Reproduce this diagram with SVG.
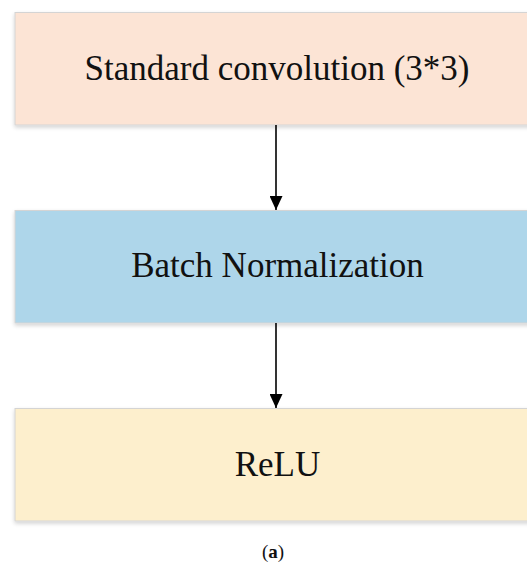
<svg xmlns="http://www.w3.org/2000/svg" width="527" height="564" viewBox="0 0 527 564">
  <style>
    .box { stroke: #d4d4d4; stroke-width: 1; }
    .label { font-family: "Liberation Serif", "Times New Roman", serif; font-size: 35px; fill: #111; text-anchor: middle; }
    .edge { stroke: #000; stroke-width: 1.6; fill: none; }
    .caption { font-family: "Liberation Serif", "Times New Roman", serif; font-size: 19px; fill: #111; text-anchor: middle; }
  </style>
  <defs>
    <marker id="arrow" markerWidth="14" markerHeight="13" refX="10" refY="5" orient="auto" markerUnits="userSpaceOnUse" viewBox="0 0 10 10" preserveAspectRatio="none">
      <path d="M0,0 L10,5 L0,10 z" fill="#000"/>
    </marker>
    <filter id="shadow" x="-5%" y="-10%" width="110%" height="130%">
      <feGaussianBlur in="SourceAlpha" stdDeviation="2"/>
      <feOffset dx="0" dy="2"/>
      <feComponentTransfer><feFuncA type="linear" slope="0.18"/></feComponentTransfer>
      <feMerge><feMergeNode/><feMergeNode in="SourceGraphic"/></feMerge>
    </filter>
  </defs>
  <rect width="527" height="564" fill="#fff"/>

  <g id="conv">
    <rect class="box" x="15" y="12.5" width="520" height="112.5" fill="#fce4d5" filter="url(#shadow)"/>
    <text class="label" x="277" y="80" font-size="35.5">Standard convolution (3*3)</text>
  </g>

  <g id="bn">
    <rect class="box" x="15" y="210.5" width="520" height="112.5" fill="#aed6ea" filter="url(#shadow)"/>
    <text class="label" x="277.5" y="277">Batch Normalization</text>
  </g>

  <g id="relu">
    <rect class="box" x="15" y="408.5" width="520" height="112.5" fill="#fdefcd" filter="url(#shadow)"/>
    <text class="label" x="277.5" y="476">ReLU</text>
  </g>

  <g id="connectors">
    <line class="edge" x1="276" y1="125" x2="276" y2="210" marker-end="url(#arrow)"/>
    <line class="edge" x1="276" y1="323" x2="276" y2="408" marker-end="url(#arrow)"/>
  </g>

  <text class="caption" x="273" y="558">(<tspan font-weight="bold">a</tspan>)</text>
</svg>
